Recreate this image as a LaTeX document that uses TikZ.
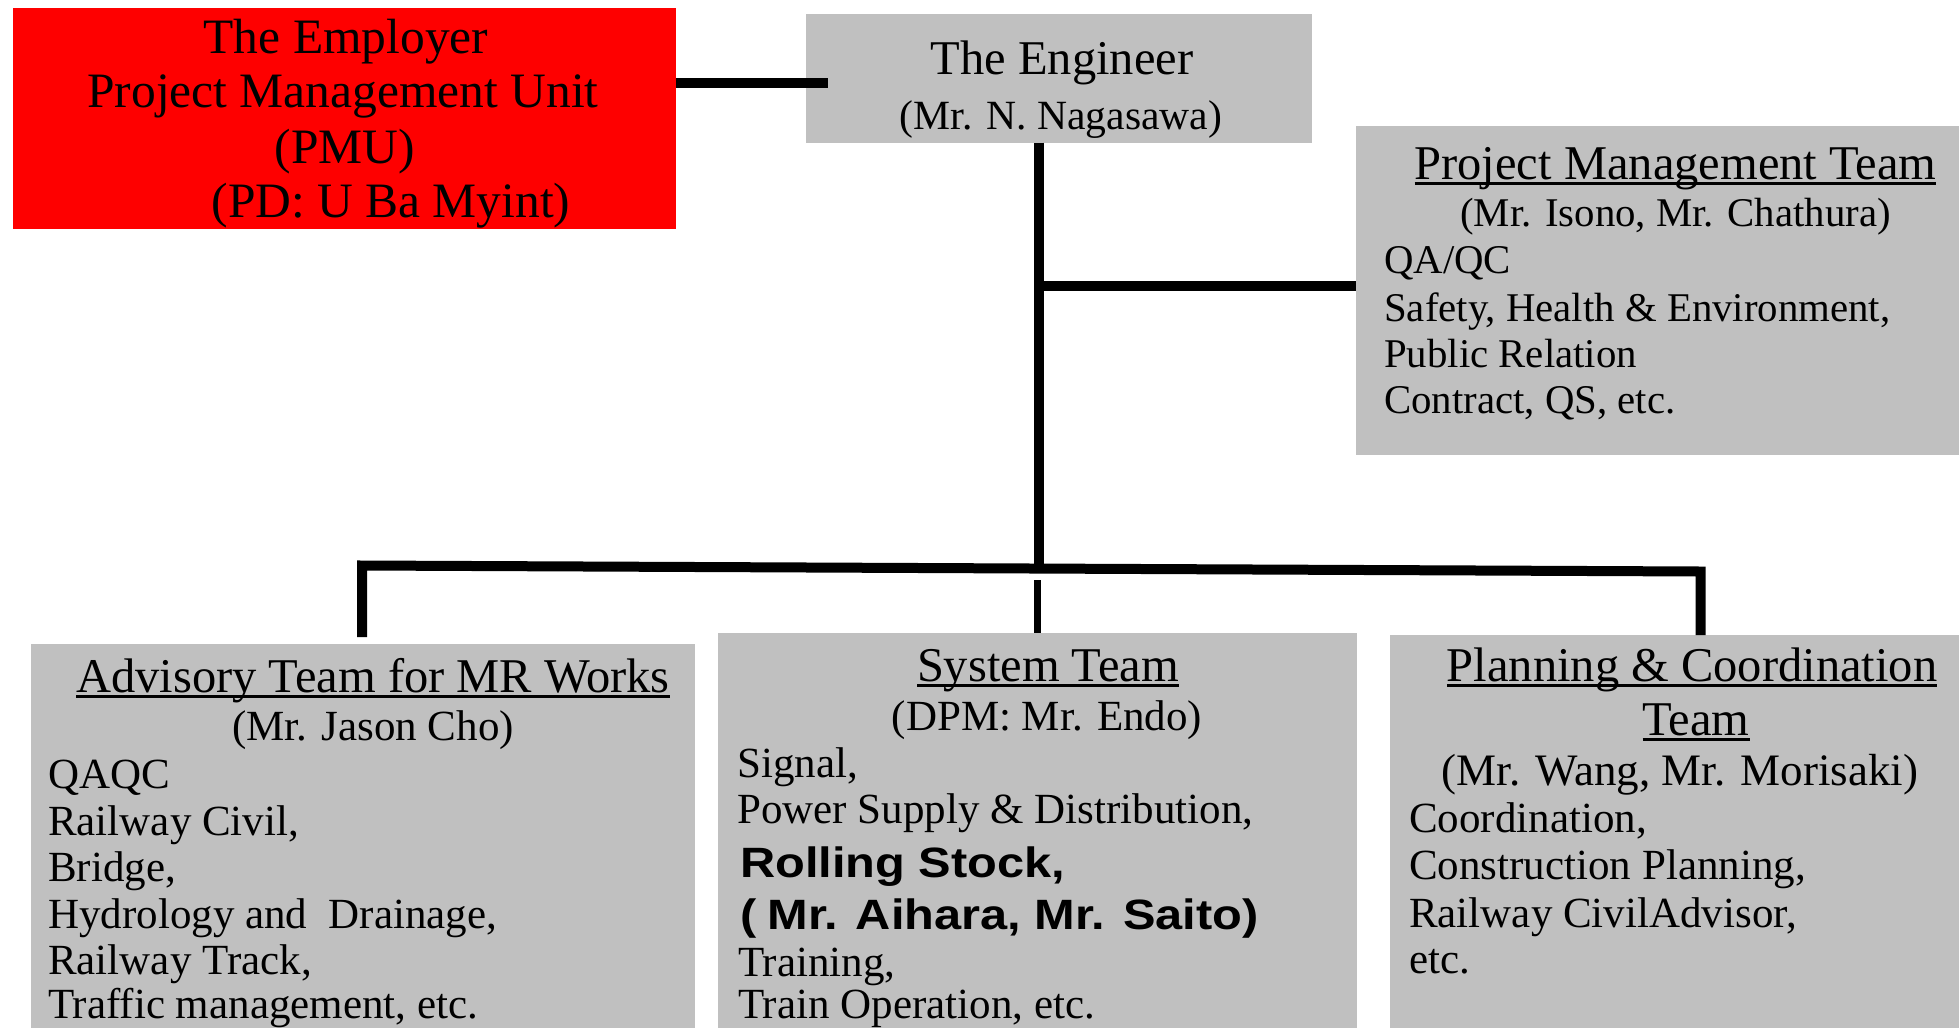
\documentclass[tikz,border=0pt]{standalone}
\usepackage{fontspec}
\setmainfont{Liberation Serif}
\newfontfamily\rsfont{Liberation Sans}[FakeStretch=1.15]

% underline placed just below the baseline, crossing the descenders
\newcommand{\ulbox}[1]{{\setbox0\hbox{#1}\rlap{\rule[-6pt]{\wd0}{2.6pt}}\box0}}

\definecolor{boxgray}{RGB}{192,192,192}
\definecolor{pmured}{RGB}{254,0,0}

\begin{document}
\begin{tikzpicture}[x=1pt,y=-1pt,
  box/.style={draw=none, inner sep=0pt, outer sep=0pt, anchor=north west},
  conn/.style={draw=black, line width=10pt},
  ctr/.style={anchor=base, inner sep=0pt},
  lft/.style={anchor=base west, inner sep=0pt},
  ftred/.style={font=\fontsize{49.5}{52}\selectfont},
  fttitle/.style={font=\fontsize{48.5}{50}\selectfont},
  ftname/.style={font=\fontsize{41.6}{46}\selectfont},
  ftpmt/.style={font=\fontsize{40.8}{46}\selectfont},
  ftbody/.style={font=\fontsize{43}{47}\selectfont},
  ftbold/.style={font=\rsfont\bfseries\fontsize{42.4}{47}\selectfont}]

\useasboundingbox (0,0) rectangle (1959,1028);
\fill[white] (0,0) rectangle (1959,1028);

% boxes
\node[box, fill=pmured, minimum width=663.5pt, minimum height=221pt] (emp) at (12.5,7.5) {};
\node[box, fill=boxgray, minimum width=506pt, minimum height=129pt] (eng) at (806,13.5) {};
\node[box, fill=boxgray, minimum width=603pt, minimum height=329pt] (pmt) at (1356,126) {};
\node[box, fill=boxgray, minimum width=664pt, minimum height=384pt] (adv) at (31,644) {};
\node[box, fill=boxgray, minimum width=639pt, minimum height=395pt] (sys) at (718,633) {};
\node[box, fill=boxgray, minimum width=569pt, minimum height=393pt] (plan) at (1390,635) {};

% connectors
\coordinate (cE) at (828,83);
\coordinate (cP) at (1356,286);
\coordinate (jM) at (1039,568.5);
\coordinate (jL) at (362,565.5);
\coordinate (jR) at (1700.5,571.5);
\coordinate (aT) at (362,637);
\coordinate (sT) at (1037,580);

\draw[conn] (emp.east |- cE) -- (cE);
\draw[conn] (jM |- eng.south) -- (jM);
\draw[conn] (jM |- cP) -- (pmt.west |- cP);
\draw[conn, line join=miter] (aT) -- (jL) -- (jR) -- (plan.north -| jR);
\draw[conn, line width=7pt] (sT) -- (sT |- sys.north);

% employer
\node[ctr, ftred] (emp1) at (346,53) {The Employer};
\node[ctr, ftred] (emp2) at (343,107) {Project Management Unit};
\node[ctr, ftred] (emp3) at (345,163) {(PMU)};
\node[ctr, ftred] (emp4) at (391,217) {(PD: U Ba Myint)};

% engineer
\node[ctr, fttitle] (eng1) at (1062,74) {The Engineer};
\node[ctr, ftname] (eng2) at (1061,129) {(Mr. N. Nagasawa)};

% project management team
\node[ctr, fttitle] (pmt1) at (1675.5,179) {\ulbox{Project Management Team}};
\node[ctr, ftpmt] (pmt2) at (1675.5,226) {(Mr. Isono, Mr. Chathura)};
\node[lft, ftpmt] (pmt3) at (1384,273) {QA/QC};
\node[lft, ftpmt] (pmt4) at (1384,321) {Safety, Health \& Environment,};
\node[lft, ftpmt] (pmt5) at (1384,367) {Public Relation};
\node[lft, ftpmt] (pmt6) at (1384,413) {Contract, QS, etc.};

% advisory team
\node[ctr, fttitle] (adv1) at (373,692) {\ulbox{Advisory Team for MR Works}};
\node[ctr, ftbody] (adv2) at (373,740) {(Mr. Jason Cho)};
\node[lft, ftbody] (adv3) at (48,788) {QAQC};
\node[lft, ftbody] (adv4) at (48,835) {Railway Civil,};
\node[lft, ftbody] (adv5) at (48,881) {Bridge,};
\node[lft, ftbody] (adv6) at (48,928) {Hydrology and\ \ Drainage,};
\node[lft, ftbody] (adv7) at (48,974) {Railway Track,};
\node[lft, ftbody] (adv8) at (48,1018) {Traffic management, etc.};

% system team
\node[ctr, fttitle] (sys1) at (1048,681) {\ulbox{System Team}};
\node[ctr, ftbody] (sys2) at (1047,730) {(DPM: Mr. Endo)};
\node[lft, ftbody] (sys3) at (737,777) {Signal,};
\node[lft, ftbody] (sys4) at (737,823) {Power Supply \& Distribution,};
\node[lft, ftbold] (sys5) at (740,877) {Rolling Stock,};
\node[lft, ftbold] (sys6) at (740,929) {(\hspace{11pt}Mr. Aihara, Mr. Saito)};
\node[lft, ftbody] (sys7) at (738,976) {Training,};
\node[lft, ftbody] (sys8) at (738,1018) {Train Operation, etc.};

% planning and coordination team
\node[ctr, fttitle] (plan1) at (1692,681) {\ulbox{Planning \& Coordination}};
\node[ctr, fttitle] (plan2) at (1696,735) {\ulbox{Team}};
\node[ctr, font=\fontsize{45}{48}\selectfont] (plan3) at (1680,785) {(Mr. Wang, Mr. Morisaki)};
\node[lft, ftbody] (plan4) at (1409,832) {Coordination,};
\node[lft, ftbody] (plan5) at (1409,879) {Construction Planning,};
\node[lft, ftbody] (plan6) at (1409,927) {Railway CivilAdvisor,};
\node[lft, ftbody] (plan7) at (1409,973) {etc.};

\end{tikzpicture}
\end{document}
